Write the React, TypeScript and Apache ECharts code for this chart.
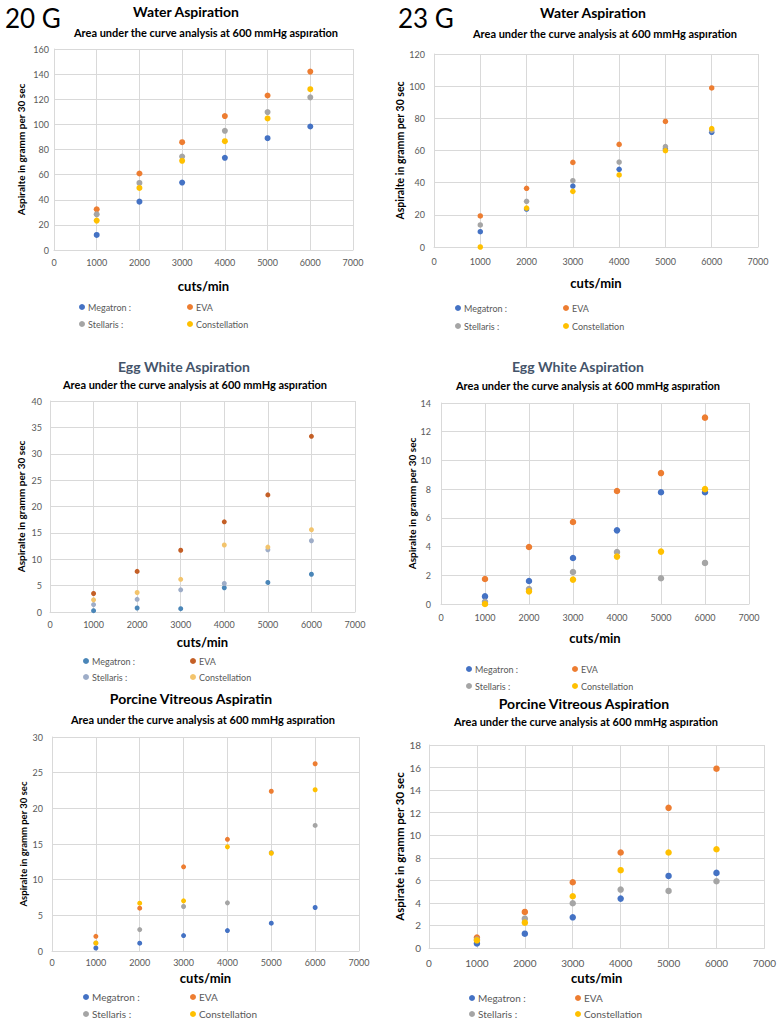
import React, { useEffect, useRef } from 'react';
import * as echarts from 'echarts';

// ---------- data ----------
const CUTS = [1000, 2000, 3000, 4000, 5000, 6000];
const NAMES = ['Megatron', 'EVA', 'Stellaris', 'Constellation'];

// Water 20 G
const WATER20_MEGATRON = [12, 38.5, 53.7, 73.4, 89, 98.3];
const WATER20_EVA = [32.4, 60.9, 85.8, 106.6, 123, 142];
const WATER20_STELLARIS = [28.4, 53.4, 74.4, 94.9, 109.8, 121.5];
const WATER20_CONSTELLATION = [23.4, 49.4, 71, 86.6, 104.7, 128];

// Water 23 G
const WATER23_MEGATRON = [9.5, 23.6, 37.9, 48.3, 61, 71.3];
const WATER23_EVA = [19.3, 36.5, 52.6, 63.8, 78.1, 98.9];
const WATER23_STELLARIS = [13.7, 28.4, 41.2, 52.8, 62.4, 72.5];
const WATER23_CONSTELLATION = [0, 24.2, 34.6, 44.8, 59.9, 73.6];

// Egg white 20 G
const EGG20_MEGATRON = [0.25, 0.76, 0.63, 4.6, 5.6, 7.15];
const EGG20_EVA = [3.5, 7.7, 11.7, 17.1, 22.2, 33.3];
const EGG20_STELLARIS = [1.4, 2.4, 4.2, 5.4, 11.8, 13.5];
const EGG20_CONSTELLATION = [2.3, 3.7, 6.2, 12.7, 12.3, 15.6];

// Egg white 23 G
const EGG23_MEGATRON = [0.53, 1.6, 3.2, 5.13, 7.78, 7.78];
const EGG23_EVA = [1.74, 3.97, 5.71, 7.87, 9.12, 12.98];
const EGG23_STELLARIS = [0.15, 1.04, 2.23, 3.62, 1.79, 2.86];
const EGG23_CONSTELLATION = [0, 0.88, 1.7, 3.3, 3.65, 8.0];

// Porcine vitreous 20 G
const PORCINE20_MEGATRON = [0.42, 1.1, 2.16, 2.86, 3.9, 6.1];
const PORCINE20_EVA = [2.06, 6.0, 11.8, 15.66, 22.4, 26.25];
const PORCINE20_STELLARIS = [1.1, 3.0, 6.24, 6.75, 13.8, 17.6];
const PORCINE20_CONSTELLATION = [1.12, 6.7, 7.03, 14.6, 13.7, 22.6];

// Porcine vitreous 23 G
const PORCINE23_MEGATRON = [0.41, 1.27, 2.72, 4.38, 6.39, 6.66];
const PORCINE23_EVA = [0.92, 3.2, 5.83, 8.47, 12.43, 15.9];
const PORCINE23_STELLARIS = [0.74, 2.6, 3.97, 5.18, 5.06, 5.92];
const PORCINE23_CONSTELLATION = [0.68, 2.25, 4.59, 6.9, 8.47, 8.76];

const SUBTITLE = 'Area under the curve analysis at 600 mmHg aspıration';
const X_NAME = 'cuts/min';

// ---------- layout / styles ----------
const FONT = 'Lato, "Open Sans", sans-serif';
const COLORS = ['#4472C4', '#ED7D31', '#A5A5A5', '#FFC000'];
const COLORS_EGG20 = ['#4A86B8', '#C45F26', '#9EADC8', '#F3C46C'];
const GRID_COLOR = '#D9D9D9';
const LABEL_COLOR = '#595959';

const PANELS = [
  {
    grid: { left: 54, top: 49, width: 299, height: 201 }, yMax: 160, yInt: 20,
    title: 'Water Aspiration', titleX: 186, titleY: 11, titleColor: '#000',
    subX: 206, subY: 32, yName: 'Aspiralte in gramm per 30 sec', yNameGap: 28, yNameSize: 10,
    xNameGap: 29, xLabelMargin: 8, yLabelMargin: 5, labelSize: 9, symbolSize: 6,
    legendX: [82, 192], legendY: [307, 324], legendSize: 9, colors: COLORS,
    data: [WATER20_MEGATRON, WATER20_EVA, WATER20_STELLARIS, WATER20_CONSTELLATION],
  },
  {
    grid: { left: 434, top: 54, width: 324, height: 193 }, yMax: 120, yInt: 20,
    title: 'Water Aspiration', titleX: 593, titleY: 12, titleColor: '#000',
    subX: 605, subY: 33, yName: 'Aspiralte in gramm per 30 sec', yNameGap: 27, yNameSize: 10.5,
    xNameGap: 29, xLabelMargin: 10, yLabelMargin: 9, labelSize: 9, symbolSize: 5.5,
    legendX: [458, 568], legendY: [308, 326], legendSize: 9, colors: COLORS,
    data: [WATER23_MEGATRON, WATER23_EVA, WATER23_STELLARIS, WATER23_CONSTELLATION],
  },
  {
    grid: { left: 50, top: 401, width: 305, height: 211 }, yMax: 40, yInt: 5,
    title: 'Egg White Aspiration', titleX: 184, titleY: 366, titleColor: '#44546A',
    subX: 195, subY: 384, yName: 'Aspiralte in gramm per 30 sec', yNameGap: 24, yNameSize: 10,
    xNameGap: 23, xLabelMargin: 8, yLabelMargin: 8, labelSize: 9, symbolSize: 5,
    legendX: [86, 195], legendY: [661, 677], legendSize: 9, colors: COLORS_EGG20,
    data: [EGG20_MEGATRON, EGG20_EVA, EGG20_STELLARIS, EGG20_CONSTELLATION],
  },
  {
    grid: { left: 441, top: 403, width: 308, height: 201 }, yMax: 14, yInt: 2,
    title: 'Egg White Aspiration', titleX: 578, titleY: 366, titleColor: '#44546A',
    subX: 588, subY: 385, yName: 'Aspiralte in gramm per 30 sec', yNameGap: 23, yNameSize: 10,
    xNameGap: 27, xLabelMargin: 9, yLabelMargin: 10, labelSize: 9, symbolSize: 6.5,
    legendX: [469, 577], legendY: [669, 686], legendSize: 9, colors: COLORS,
    data: [EGG23_MEGATRON, EGG23_EVA, EGG23_STELLARIS, EGG23_CONSTELLATION],
  },
  {
    grid: { left: 52, top: 737, width: 307, height: 214 }, yMax: 30, yInt: 5,
    title: 'Porcine Vitreous Aspiratin', titleX: 191, titleY: 698, titleColor: '#000',
    subX: 203, subY: 719, yName: 'Aspiralte in gramm per 30 sec', yNameGap: 23, yNameSize: 9.5,
    xNameGap: 20, xLabelMargin: 7, yLabelMargin: 9, labelSize: 9, symbolSize: 5,
    legendX: [86, 195], legendY: [997, 1014], legendSize: 10, colors: COLORS,
    data: [PORCINE20_MEGATRON, PORCINE20_EVA, PORCINE20_STELLARIS, PORCINE20_CONSTELLATION],
  },
  {
    grid: { left: 429, top: 745, width: 341, height: 203 }, yMax: 18, yInt: 2,
    title: 'Porcine Vitreous Aspiration', titleX: 584, titleY: 703, titleColor: '#000',
    subX: 586, subY: 721, yName: 'Aspirate in gramm per 30 sec', yNameGap: 21, yNameSize: 11.5,
    xNameGap: 23, xLabelMargin: 10, yLabelMargin: 8, labelSize: 10, symbolSize: 6.5,
    legendX: [472, 580], legendY: [998, 1014], legendSize: 10, colors: COLORS,
    data: [PORCINE23_MEGATRON, PORCINE23_EVA, PORCINE23_STELLARIS, PORCINE23_CONSTELLATION],
  },
];

function textEl(text: string, x: number, y: number, size: number, weight: string, color: string, align = 'center') {
  return {
    type: 'text',
    x,
    y,
    silent: true,
    style: {
      text,
      fontSize: size,
      fontWeight: weight,
      fontFamily: FONT,
      fill: color,
      textAlign: align,
      textVerticalAlign: 'middle',
      align,
      verticalAlign: 'middle',
    },
  };
}

const plain = (v: number) => String(v);

function buildOption() {
  const grid: any[] = [];
  const xAxis: any[] = [];
  const yAxis: any[] = [];
  const series: any[] = [];
  const legend: any[] = [];
  const graphic: any[] = [];

  graphic.push(textEl('20 G', 5, 18, 26, 'normal', '#000', 'left'));
  graphic.push(textEl('23 G', 398, 18, 26, 'normal', '#000', 'left'));

  PANELS.forEach((p, i) => {
    grid.push({ ...p.grid, containLabel: false });
    xAxis.push({
      gridIndex: i,
      type: 'value',
      min: 0,
      max: 7000,
      interval: 1000,
      name: X_NAME,
      nameLocation: 'middle',
      nameGap: p.xNameGap,
      nameTextStyle: { fontSize: 13, fontWeight: 'bold', color: '#000', fontFamily: FONT },
      axisLine: { show: true, lineStyle: { color: GRID_COLOR, width: 1 } },
      axisTick: { show: false },
      axisLabel: { color: LABEL_COLOR, fontSize: p.labelSize, margin: p.xLabelMargin, fontFamily: FONT, formatter: plain },
      splitLine: { show: true, lineStyle: { color: GRID_COLOR, width: 1 } },
    });
    yAxis.push({
      gridIndex: i,
      type: 'value',
      min: 0,
      max: p.yMax,
      interval: p.yInt,
      name: p.yName,
      nameLocation: 'middle',
      nameRotate: 90,
      nameGap: p.yNameGap,
      nameTextStyle: { fontSize: p.yNameSize, fontWeight: 'bold', color: '#000', fontFamily: FONT },
      axisLine: { show: true, lineStyle: { color: GRID_COLOR, width: 1 } },
      axisTick: { show: false },
      axisLabel: { color: LABEL_COLOR, fontSize: p.labelSize, margin: p.yLabelMargin, fontFamily: FONT, formatter: plain },
      splitLine: { show: true, lineStyle: { color: GRID_COLOR, width: 1 } },
    });

    NAMES.forEach((name, j) => {
      series.push({
        type: 'scatter',
        name,
        xAxisIndex: i,
        yAxisIndex: i,
        symbol: 'circle',
        symbolSize: p.symbolSize,
        itemStyle: { color: p.colors[j], opacity: 1 },
        data: CUTS.map((c, k) => [c, p.data[j][k]]),
      });
    });

    const spacing = p.legendX[1] - p.legendX[0];
    const textW = spacing - 21;
    for (let r = 0; r < 2; r++) {
      legend.push({
        left: p.legendX[0] - 3,
        top: p.legendY[r] - 6,
        padding: 0,
        itemWidth: 6,
        itemHeight: 6,
        itemGap: 10,
        icon: 'circle',
        selectedMode: false,
        orient: 'horizontal',
        formatter: (n: string) => (n === 'Megatron' || n === 'Stellaris' ? n + ' :' : n),
        textStyle: {
          color: LABEL_COLOR,
          fontSize: p.legendSize,
          fontFamily: FONT,
          width: textW,
          lineHeight: 12,
          padding: [0, 0, 0, -2],
        },
        data: [NAMES[r * 2], NAMES[r * 2 + 1]].map((n) => ({
          name: n,
          itemStyle: { color: p.colors[NAMES.indexOf(n)] },
        })),
      });
    }

    graphic.push(textEl(p.title, p.titleX, p.titleY, 14, 'bold', p.titleColor));
    graphic.push(textEl(SUBTITLE, p.subX, p.subY, 11, 'bold', '#000'));
  });

  return {
    animation: false,
    backgroundColor: '#ffffff',
    grid,
    xAxis,
    yAxis,
    series,
    legend,
    graphic,
  };
}

export default function App() {
  const ref = useRef<HTMLDivElement | null>(null);
  useEffect(() => {
    if (!ref.current) return;
    const chart = echarts.init(ref.current, undefined, { renderer: 'svg' });
    chart.setOption(buildOption() as any);
    return () => chart.dispose();
  }, []);
  return (
    <div
      ref={ref}
      style={{ position: 'absolute', left: 0, top: 0, width: 779, height: 1023, background: '#fff' }}
    />
  );
}
